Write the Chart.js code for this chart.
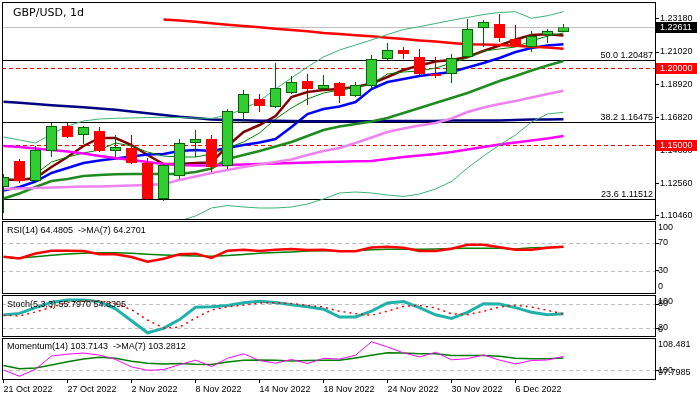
<!DOCTYPE html>
<html lang="en">
<head>
<meta charset="utf-8">
<title>GBP/USD, 1d</title>
<script src="https://cdn.jsdelivr.net/npm/chart.js@4.4.1/dist/chart.umd.min.js"></script>
<style>
  html, body { margin: 0; padding: 0; background: #ffffff; }
  #chart { position: relative; width: 697px; height: 397px; overflow: hidden; background: #ffffff; }
  #chart canvas { position: absolute; left: 0; }
</style>
</head>
<body>
<div id="chart">
  <canvas id="pricePanel" width="697" height="221" style="top:0px"></canvas>
  <canvas id="rsiPanel" width="697" height="73" style="top:221px"></canvas>
  <canvas id="stochPanel" width="697" height="42" style="top:295px"></canvas>
  <canvas id="momentumPanel" width="697" height="59" style="top:338px"></canvas>
</div>
<script>
//******************** DATA ********************/

const dates = [
  "21 Oct 2022", "24 Oct 2022", "25 Oct 2022", "26 Oct 2022", "27 Oct 2022", "28 Oct 2022",
  "31 Oct 2022", "1 Nov 2022", "2 Nov 2022", "3 Nov 2022", "4 Nov 2022", "7 Nov 2022",
  "8 Nov 2022", "9 Nov 2022", "10 Nov 2022", "11 Nov 2022", "14 Nov 2022", "15 Nov 2022",
  "16 Nov 2022", "17 Nov 2022", "18 Nov 2022", "21 Nov 2022", "22 Nov 2022", "23 Nov 2022",
  "24 Nov 2022", "25 Nov 2022", "28 Nov 2022", "29 Nov 2022", "30 Nov 2022", "1 Dec 2022",
  "2 Dec 2022", "5 Dec 2022", "6 Dec 2022", "7 Dec 2022", "8 Dec 2022", "9 Dec 2022",
];
const dateTickIndex = [0, 4, 8, 12, 16, 20, 24, 28, 32];

const open = [1.12311, 1.13988, 1.12698, 1.14633, 1.16246, 1.15665, 1.15923, 1.14633, 1.14827, 1.13859, 1.11536, 1.1302, 1.15149, 1.15407, 1.13665, 1.17085, 1.17988, 1.17472, 1.18375, 1.19149, 1.18633, 1.1902, 1.18181, 1.18827, 1.20569, 1.21149, 1.20698, 1.19601, 1.19601, 1.20698, 1.22569, 1.22827, 1.21859, 1.21343, 1.22117, 1.2231];
const high = [1.13149, 1.14117, 1.14956, 1.1644, 1.1644, 1.16246, 1.16181, 1.15665, 1.15665, 1.14181, 1.13794, 1.15407, 1.15988, 1.15665, 1.17343, 1.18569, 1.1831, 1.2031, 1.19472, 1.19601, 1.19536, 1.19085, 1.19085, 1.20827, 1.21601, 1.21343, 1.21214, 1.20698, 1.20891, 1.23149, 1.23085, 1.23472, 1.22762, 1.22375, 1.22504, 1.22827];
const low = [1.10633, 1.12569, 1.12569, 1.14246, 1.15472, 1.15085, 1.14569, 1.14246, 1.13794, 1.11472, 1.11407, 1.12827, 1.14246, 1.13278, 1.13472, 1.16504, 1.17149, 1.17407, 1.1831, 1.17601, 1.18569, 1.1773, 1.18117, 1.18633, 1.20504, 1.20569, 1.19536, 1.19343, 1.1902, 1.20633, 1.21343, 1.21665, 1.21343, 1.2102, 1.21601, 1.2231];
const close = [1.12956, 1.12698, 1.14698, 1.16246, 1.15536, 1.16181, 1.14633, 1.14891, 1.13859, 1.11536, 1.1373, 1.15149, 1.15407, 1.13601, 1.17214, 1.1831, 1.17536, 1.18698, 1.19085, 1.18633, 1.18891, 1.18181, 1.18891, 1.20569, 1.21149, 1.20891, 1.19601, 1.19472, 1.20633, 1.22504, 1.22956, 1.21923, 1.21407, 1.22052, 1.22375, 1.22611];

const redMa = [null, null, null, null, null, null, null, null, null, null, 1.23117, 1.23052, 1.22975, 1.22878, 1.22781, 1.22698, 1.2262, 1.22517, 1.2244, 1.22356, 1.22246, 1.22181, 1.22104, 1.22039, 1.21943, 1.21859, 1.21756, 1.21698, 1.21601, 1.21517, 1.21504, 1.21472, 1.21427, 1.21362, 1.2131, 1.21233];
const navyMa = [1.17807, 1.17743, 1.17665, 1.17588, 1.17523, 1.17459, 1.17381, 1.17291, 1.17181, 1.17065, 1.16956, 1.16846, 1.16762, 1.16672, 1.16633, 1.16614, 1.16588, 1.16581, 1.16569, 1.16556, 1.16556, 1.16556, 1.16556, 1.16556, 1.16569, 1.16569, 1.16569, 1.16569, 1.16594, 1.16594, 1.16594, 1.16594, 1.16633, 1.16665, 1.16672, 1.16678];
const maroonMa = [1.12794, 1.12762, 1.12891, 1.13601, 1.14246, 1.14956, 1.15472, 1.15472, 1.1502, 1.14375, 1.13794, 1.13794, 1.13859, 1.13885, 1.14956, 1.15859, 1.1631, 1.16891, 1.18117, 1.1844, 1.18569, 1.18633, 1.18762, 1.18988, 1.19407, 1.19859, 1.20149, 1.20407, 1.20504, 1.20698, 1.21085, 1.2144, 1.21827, 1.22117, 1.22162, 1.22085];
const blueMa = [1.12085, 1.12311, 1.12665, 1.13214, 1.13536, 1.13859, 1.1402, 1.14149, 1.14278, 1.14407, 1.1444, 1.14633, 1.14698, 1.14633, 1.14827, 1.1502, 1.15182, 1.15407, 1.16182, 1.1702, 1.17343, 1.17504, 1.17794, 1.18633, 1.19085, 1.19278, 1.19472, 1.19601, 1.1973, 1.2002, 1.2031, 1.20633, 1.2102, 1.21278, 1.2144, 1.21517];
const thinGreenMa = [null, null, 1.13149, 1.13923, 1.14246, 1.14504, 1.14698, 1.15149, 1.14956, 1.14569, 1.1431, 1.14246, 1.14246, 1.1444, 1.14827, 1.15214, 1.15794, 1.16698, 1.17407, 1.17988, 1.18375, 1.18569, 1.18762, 1.18956, 1.19601, 1.1973, 1.19794, 1.19988, 1.2031, 1.20633, 1.21085, 1.21214, 1.21343, 1.2173, 1.22052, 1.22246];
const magentaMa = [1.14956, 1.14891, 1.14794, 1.14698, 1.14601, 1.14472, 1.1431, 1.14181, 1.14052, 1.13923, 1.13794, 1.1373, 1.13698, 1.13698, 1.1373, 1.13762, 1.13794, 1.13827, 1.13859, 1.13891, 1.13923, 1.13943, 1.13968, 1.13988, 1.14117, 1.14246, 1.14343, 1.1444, 1.14569, 1.1473, 1.14891, 1.15052, 1.15182, 1.1531, 1.1544, 1.15601];
const violetMa = [1.12182, 1.12214, 1.12246, 1.12278, 1.12311, 1.12343, 1.12343, 1.12375, 1.12407, 1.1244, 1.12504, 1.12762, 1.12988, 1.13214, 1.13407, 1.13601, 1.13762, 1.13923, 1.14085, 1.14375, 1.14633, 1.14827, 1.15149, 1.15504, 1.15859, 1.16085, 1.16278, 1.1644, 1.1673, 1.17149, 1.1744, 1.17665, 1.17859, 1.18085, 1.1831, 1.18523];
const bandMiddle = [1.11569, 1.11891, 1.12311, 1.12698, 1.12827, 1.1302, 1.13085, 1.1313, 1.13149, 1.13149, 1.13149, 1.13149, 1.13278, 1.13504, 1.14117, 1.14375, 1.14633, 1.14923, 1.15214, 1.15601, 1.15988, 1.16214, 1.16375, 1.16536, 1.16762, 1.17085, 1.17407, 1.1773, 1.18052, 1.18375, 1.18762, 1.19149, 1.19472, 1.19827, 1.20149, 1.2044];
const bandUpper = [1.15536, 1.15343, 1.15149, 1.1573, 1.16246, 1.16569, 1.16698, 1.16743, 1.16762, 1.16794, 1.16807, 1.16794, 1.16762, 1.1673, 1.16956, 1.17343, 1.17859, 1.18633, 1.19343, 1.20052, 1.20698, 1.21149, 1.21472, 1.21794, 1.22149, 1.22472, 1.22652, 1.22859, 1.23065, 1.23246, 1.2344, 1.23569, 1.2362, 1.23194, 1.23362, 1.2362];
const bandLower = [1.07601, 1.0844, 1.09472, 1.09665, 1.09407, 1.09472, 1.09472, 1.09536, 1.09536, 1.09504, 1.09491, 1.10117, 1.1044, 1.10956, 1.11117, 1.1102, 1.10956, 1.10956, 1.1102, 1.11214, 1.11536, 1.11923, 1.11988, 1.11923, 1.11794, 1.11698, 1.11859, 1.12182, 1.12665, 1.13536, 1.1431, 1.1502, 1.15665, 1.16504, 1.1702, 1.1713];

const rsi = [50.4, 48, 55, 59, 59, 58.6, 54, 53.8, 50, 43.3, 47.5, 54, 54.8, 48.6, 59, 60.5, 58.6, 60.5, 61.5, 60, 60.5, 58.3, 58.1, 63.5, 64.8, 63.3, 58.6, 58.6, 61.9, 67.6, 67.6, 64, 60.5, 60.5, 63.3, 64.48];
const rsiMa = [50, 48.5, 50.5, 52.5, 54.3, 55.5, 56.2, 56, 55.3, 54, 53, 52, 51.5, 51, 52, 53.5, 55.5, 56.5, 57.3, 58.5, 59, 59, 59, 60.3, 61.2, 61, 61, 61.5, 62.2, 62.4, 62.4, 62.4, 61.5, 63.2, 63.6, 64.27];
const stochMain = [52.5, 56.5, 71, 84, 90, 90, 86, 68, 38, 8, 19, 41, 72, 73, 76, 83, 87, 84, 78.3, 73.3, 67, 47.5, 47.5, 62, 82.5, 86, 71, 53, 44, 59, 80.8, 80, 71, 59.5, 53.3, 55.8];
const stochSignal = [52, 50, 60, 72, 84, 88, 88, 81, 66, 40, 20, 22, 45, 65, 73, 77, 82.5, 83.3, 81, 76.7, 72.5, 62, 55.8, 51.7, 62, 74, 76.7, 70, 55.8, 53.3, 61.7, 72.5, 76.7, 72.5, 64.2, 54.84];
const momentum = [100.1, 98.4, 100.3, 103.8, 104.3, 104.6, 104.05, 102.9, 100.9, 100, 100.2, 101.5, 102.7, 101, 103.2, 104.4, 102.6, 101.9, 102.9, 101.8, 103.2, 103, 104, 107.6, 106.2, 104.65, 103.55, 104.8, 102.8, 103.1, 104.1, 102.7, 101.7, 102.6, 102.75, 103.71];
const momentumMa = [101.3, 100.4, 100.6, 101.4, 102.3, 103, 103.45, 103.2, 102.4, 101.9, 101.7, 101.8, 101.6, 101.55, 102.2, 102.7, 102.75, 102.7, 102.5, 102.6, 102.67, 102.67, 103.3, 104, 104.7, 104.6, 104.39, 104.39, 103.97, 103.97, 103.97, 103.71, 103.2, 103.09, 103.09, 103.28];

const priceTicks = [1.2318, 1.2102, 1.1892, 1.1682, 1.1468, 1.1256, 1.1046];
const lastPrice = 1.22611;
const fibLevels = [1.20487, 1.16475, 1.11512];
const fibTexts = ["50.0 1.20487", "38.2 1.16475", "23.6 1.11512"];
const redLevels = [1.2, 1.15];
const rsiLevels = [70, 30];
const rsiAxis = [100, 70, 30, 0];
const stochLevels = [80, 20];
const stochAxis = [100, 80, 20, 0];
const momentumLevels = [100];
const momentumAxis = [108.481, 100, 97.7985];

//******************** HELPERS ********************/

const X_MIN = -0.09375;
const X_MAX = 40.78125;
const SMALL_FONT = '9px "Liberation Sans", Arial, sans-serif';

Chart.defaults.font.family = '"Liberation Sans", Arial, sans-serif';
Chart.defaults.font.size = 9;
Chart.defaults.color = "#000";

const toPoints = (values) => values.map((v, i) => ({ x: i, y: v }));

const line = (values, color, width, extra = {}) => ({
  type: "line",
  data: toPoints(values),
  borderColor: color,
  borderWidth: width,
  pointRadius: 0,
  tension: 0,
  fill: false,
  clip: 0,
  order: 2,
  ...extra,
});

const panelPlugin = {
  id: "panel",
  beforeDatasetsDraw(chart, args, opts) {
    const { ctx, chartArea: area } = chart;
    const y = chart.scales.y;
    ctx.save();
    ctx.beginPath();
    ctx.rect(area.left, area.top, area.right - area.left, area.bottom - area.top);
    ctx.clip();
    ctx.lineWidth = 1;
    ctx.font = SMALL_FONT;
    (opts.lines || []).forEach((level) => {
      const py = Math.round(y.getPixelForValue(level.value)) + 0.5;
      ctx.strokeStyle = level.color;
      ctx.setLineDash(level.dash || []);
      ctx.beginPath();
      ctx.moveTo(area.left, py);
      ctx.lineTo(area.right, py);
      ctx.stroke();
      if (level.text) {
        ctx.fillStyle = "#000";
        ctx.textAlign = "right";
        ctx.textBaseline = "alphabetic";
        ctx.fillText(level.text, area.right - 3, py - 2.5);
      }
    });
    ctx.restore();
  },
  afterDraw(chart, args, opts) {
    const { ctx, chartArea: area } = chart;
    const y = chart.scales.y;
    ctx.save();
    ctx.font = SMALL_FONT;
    ctx.textAlign = "left";
    ctx.textBaseline = "middle";
    (opts.axisLabels || []).forEach((v) => {
      const py = Math.min(Math.max(y.getPixelForValue(v), area.top + 7), area.bottom - 7);
      ctx.fillStyle = "#000";
      ctx.fillText(String(v), area.right + 2, py);
    });
    (opts.boxes || []).forEach((box) => {
      const py = Math.round(y.getPixelForValue(box.value));
      ctx.fillStyle = box.bg;
      ctx.fillRect(area.right, py - 5, chart.width - area.right, 11);
      ctx.fillStyle = "#fff";
      ctx.fillText(box.value.toFixed(5), area.right + 4, py + 0.5);
    });
    (opts.texts || []).forEach((t) => {
      ctx.font = t.font || SMALL_FONT;
      ctx.fillStyle = "#000";
      ctx.fillText(t.text, area.left + t.dx, area.top + t.dy);
    });
    ctx.strokeStyle = "#000";
    ctx.lineWidth = 1;
    ctx.strokeRect(area.left + 0.5, area.top + 0.5, area.right - area.left - 1, area.bottom - area.top - 1);
    ctx.restore();
  },
};

const xAxis = (showDates) => ({
  type: "linear",
  min: X_MIN,
  max: X_MAX,
  offset: false,
  display: showDates,
  afterBuildTicks: (s) => {
    s.ticks = dateTickIndex.map((v) => ({ value: v }));
  },
  afterFit: (s) => {
    s.height = showDates ? 17 : 0;
    s.paddingLeft = 0;
    s.paddingRight = 0;
    s.paddingTop = 0;
    s.paddingBottom = 0;
  },
  grid: { drawOnChartArea: false, drawTicks: true, tickLength: 3, color: "#000", offset: false },
  border: { display: false },
  ticks: {
    align: "start",
    maxRotation: 0,
    autoSkip: false,
    padding: 1,
    color: "#000",
    font: { size: 9 },
    callback: (v) => dates[v],
  },
});

const yAxis = (min, max, tickValues, showLabels) => ({
  position: "right",
  min: min,
  max: max,
  afterBuildTicks: (s) => {
    s.ticks = tickValues.map((v) => ({ value: v }));
  },
  afterFit: (s) => {
    s.width = 41;
    s.paddingTop = 0;
    s.paddingBottom = 0;
    s.paddingLeft = 0;
    s.paddingRight = 0;
  },
  grid: { drawOnChartArea: false, drawTicks: true, tickLength: 3, color: "#000" },
  border: { display: false },
  ticks: {
    display: showLabels,
    color: "#000",
    padding: 1,
    font: { size: 9 },
    callback: (v) => v.toFixed(5),
  },
});

const makeChart = (id, datasets, yScale, panel, showDates, padding) =>
  new Chart(document.getElementById(id), {
    type: "line",
    data: { datasets: datasets },
    plugins: [panelPlugin],
    options: {
      responsive: false,
      maintainAspectRatio: false,
      animation: false,
      devicePixelRatio: 1,
      events: [],
      layout: { padding: padding },
      plugins: { legend: { display: false }, tooltip: { enabled: false }, panel: panel },
      scales: { x: xAxis(showDates), y: yScale },
    },
  });

//******************** PRICE PANEL ********************/

const bullish = open.map((o, i) => close[i] >= o);

const wicks = {
  type: "bar",
  data: low.map((l, i) => ({ x: i, y: [l, high[i]] })),
  backgroundColor: bullish.map((b) => (b ? "#006400" : "#B00000")),
  borderWidth: 0,
  barThickness: 1,
  inflateAmount: 0,
  grouped: false,
  clip: 0,
  order: 1,
};

const bodies = {
  type: "bar",
  data: open.map((o, i) => ({ x: i, y: [o, close[i]] })),
  backgroundColor: bullish.map((b) => (b ? "#32CD32" : "#FF0000")),
  borderColor: bullish.map((b) => (b ? "#006400" : "#FF0000")),
  borderWidth: 1,
  borderSkipped: false,
  barThickness: 11,
  inflateAmount: 0,
  grouped: false,
  clip: 0,
  order: 0,
};

makeChart(
  "pricePanel",
  [
    bodies,
    wicks,
    line(bandUpper, "#3CB371", 1),
    line(bandLower, "#3CB371", 1),
    line(violetMa, "#EE82EE", 2.5),
    line(magentaMa, "#FF00FF", 2.5),
    line(bandMiddle, "#1E8B1E", 2.5),
    line(navyMa, "#000080", 2.5),
    line(redMa, "#FF0000", 2.5),
    line(thinGreenMa, "#008000", 1),
    line(blueMa, "#0000FF", 2.5),
    line(maroonMa, "#800000", 2.5),
  ],
  yAxis(1.101815, 1.24246, priceTicks, true),
  {
    lines: [
      { value: lastPrice, color: "#C0C0C0" },
      ...fibLevels.map((v, k) => ({ value: v, color: "#000", text: fibTexts[k] })),
      ...redLevels.map((v) => ({ value: v, color: "#FF0000", dash: [4, 3] })),
    ],
    boxes: [{ value: lastPrice, bg: "#000" }, ...redLevels.map((v) => ({ value: v, bg: "#FF0000" }))],
    texts: [{ text: "GBP/USD, 1d", dx: 11, dy: 11.5, font: '11px "DejaVu Sans", sans-serif' }],
  },
  false,
  { left: 2, top: 2, right: 0, bottom: 1 }
);

//******************** RSI ********************/

makeChart(
  "rsiPanel",
  [line(rsiMa, "#008000", 1.5), line(rsi, "#FF0000", 2.5, { order: 1 })],
  yAxis(-2.86, 101.43, rsiLevels, false),
  {
    lines: rsiLevels.map((v) => ({ value: v, color: "#C0C0C0", dash: [4, 3] })),
    axisLabels: rsiAxis,
    texts: [{ text: "RSI(14) 64.4805  ->MA(7) 64.2701", dx: 5, dy: 10 }],
  },
  false,
  { left: 2, top: 0, right: 0, bottom: 0 }
);

//******************** STOCHASTIC ********************/

makeChart(
  "stochPanel",
  [line(stochMain, "#20B2AA", 3), line(stochSignal, "#FF0000", 1.5, { borderDash: [2, 4], order: 1 })],
  yAxis(-2.5, 102.5, stochLevels, false),
  {
    lines: stochLevels.map((v) => ({ value: v, color: "#C0C0C0", dash: [4, 3] })),
    axisLabels: stochAxis,
    texts: [{ text: "Stoch(5,3,3) 55.7970 54.8395", dx: 5, dy: 10 }],
  },
  false,
  { left: 2, top: 0, right: 0, bottom: 0 }
);

//******************** MOMENTUM ********************/

makeChart(
  "momentumPanel",
  [line(momentumMa, "#008000", 1.5), line(momentum, "#FF00FF", 1, { order: 1 })],
  yAxis(97.42, 108.6, momentumLevels, false),
  {
    lines: momentumLevels.map((v) => ({ value: v, color: "#C0C0C0", dash: [4, 3] })),
    axisLabels: momentumAxis,
    texts: [{ text: "Momentum(14) 103.7143  ->MA(7) 103.2812", dx: 5, dy: 9 }],
  },
  true,
  { left: 2, top: 0, right: 0, bottom: 0 }
);
</script>
</body>
</html>
